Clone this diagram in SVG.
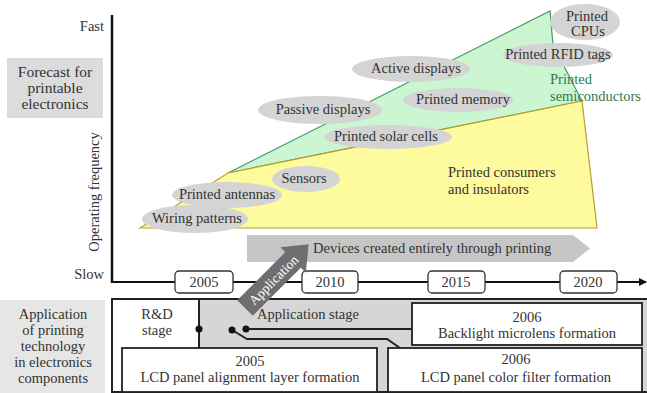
<svg xmlns="http://www.w3.org/2000/svg" width="647" height="393" viewBox="0 0 647 393" font-family="'Liberation Serif', 'DejaVu Serif', serif">
<style>
text{font-family:"Liberation Serif","DejaVu Serif","Noto Serif",serif;fill:#333;font-size:14.5px}
.c{text-anchor:middle}
.r{text-anchor:end}
.ell{fill:#d4d4d4}
.yr{fill:#fff;stroke:#333;stroke-width:1.3}
.box{fill:#fff;stroke:#222;stroke-width:1.8}
.ln{stroke:#222;stroke-width:2;fill:none}
.dot{fill:#111}
.g{fill:#2f7a4e}
.big{font-size:15.5px}
</style>
<defs>
<marker id="ah" markerWidth="8" markerHeight="8" refX="7" refY="4" orient="auto" markerUnits="userSpaceOnUse">
<path d="M0,0 L8,4 L0,8 z" fill="#111"/>
</marker>
</defs>

<g id="label-forecast">
<rect x="7" y="58" width="96" height="60" fill="#dcdcdc"/>
<text class="c big" x="55" y="77">Forecast for</text>
<text class="c big" x="55" y="93">printable</text>
<text class="c big" x="55" y="109">electronics</text>
</g>

<g id="label-application">
<rect x="0" y="300" width="105" height="93" fill="#e6e6e6"/>
<text class="c" x="53" y="319">Application</text>
<text class="c" x="53" y="335">of printing</text>
<text class="c" x="53" y="351">technology</text>
<text class="c" x="53" y="367">in electronics</text>
<text class="c" x="53" y="383">components</text>
</g>

<g id="forecast-areas">
<polygon points="228,173 550,11 553,45 582,101" fill="#ccf5d2" stroke="#3f9a66" stroke-width="1.2"/>
<polygon points="140,228 228,173 582,101 597,228" fill="#fdfb9d" stroke="#b8a030" stroke-width="1.2"/>
</g>

<g id="axes">
<text class="r" x="104" y="31">Fast</text>
<text class="r" x="104" y="279">Slow</text>
<text class="c" transform="translate(99,192) rotate(-90)">Operating frequency</text>
<line x1="112" y1="15" x2="112" y2="283" stroke="#111" stroke-width="2.5"/>
<line x1="111" y1="282" x2="646" y2="282" stroke="#111" stroke-width="2" marker-end="url(#ah)"/>
</g>

<g id="bubble-wiring"><ellipse class="ell" cx="195" cy="219" rx="53" ry="14"/><text class="c" x="197" y="223">Wiring patterns</text></g>
<g id="bubble-antennas"><ellipse class="ell" cx="227" cy="195" rx="55" ry="13"/><text class="c" x="227" y="199">Printed antennas</text></g>
<g id="bubble-sensors"><ellipse class="ell" cx="306" cy="179" rx="34" ry="13"/><text class="c" x="304" y="183">Sensors</text></g>
<g id="bubble-passive"><ellipse class="ell" cx="320" cy="110" rx="62" ry="14"/><text class="c" x="323" y="114">Passive displays</text></g>
<g id="bubble-solar"><ellipse class="ell" cx="388" cy="137" rx="64" ry="12"/><text class="c" x="386" y="141">Printed solar cells</text></g>
<g id="bubble-active"><ellipse class="ell" cx="411" cy="69" rx="59" ry="13"/><text class="c" x="416" y="73">Active displays</text></g>
<g id="bubble-memory"><ellipse class="ell" cx="458" cy="100" rx="55" ry="12"/><text class="c" x="463" y="104">Printed memory</text></g>
<g id="bubble-rfid"><ellipse class="ell" cx="558" cy="55" rx="55" ry="12"/><text class="c" x="558" y="59">Printed RFID tags</text></g>
<g id="bubble-cpus"><ellipse class="ell" cx="585" cy="22" rx="35" ry="18"/><text class="c" x="587" y="21">Printed</text><text class="c" x="588" y="36">CPUs</text></g>
<g id="text-semiconductors"><text class="g" x="550" y="84">Printed</text><text class="g" x="550" y="101">semiconductors</text></g>
<g id="text-consumers"><text x="448" y="177">Printed consumers</text><text x="448" y="194">and insulators</text></g>

<g id="arrow-devices">
<polygon points="247,235 573,235 590,248.5 573,262 247,262" fill="#c6c6c6"/>
<text x="313" y="253">Devices created entirely through printing</text>
</g>

<g id="years">
<rect class="yr" x="175" y="271" width="58" height="22" rx="4"/><text class="c" x="204" y="287">2005</text>
<rect class="yr" x="302" y="271" width="56" height="22" rx="4"/><text class="c" x="330" y="287">2010</text>
<rect class="yr" x="428" y="271" width="57" height="22" rx="4"/><text class="c" x="456" y="287">2015</text>
<rect class="yr" x="560" y="271" width="57" height="22" rx="4"/><text class="c" x="588" y="287">2020</text>
</g>

<g id="panel">
<rect x="112" y="299" width="540" height="93" fill="#fff" stroke="#222" stroke-width="2"/>
<rect x="199" y="300" width="450" height="91" fill="#d6d6d6"/>
<text class="c" x="157" y="319">R&amp;D</text>
<text class="c" x="157" y="335">stage</text>
<text x="257" y="319">Application stage</text>
</g>

<g id="connectors">
<line class="ln" x1="199" y1="299" x2="199" y2="348"/>
<circle class="dot" cx="199" cy="329" r="3.5"/>
<polyline class="ln" points="246,329 412,329"/>
<circle class="dot" cx="246" cy="329" r="3.5"/>
<polyline class="ln" points="232,330 247,339 387,339 400,348"/>
<circle class="dot" cx="232" cy="330" r="3.5"/>
</g>

<g id="box-backlight">
<rect class="box" x="412" y="303" width="230" height="42"/>
<text class="c" x="527" y="322">2006</text>
<text class="c" x="527" y="338">Backlight microlens formation</text>
</g>
<g id="box-alignment">
<rect class="box" x="122" y="348" width="255" height="44"/>
<text class="c" x="250" y="366">2005</text>
<text class="c" x="250" y="382">LCD panel alignment layer formation</text>
</g>
<g id="box-colorfilter">
<rect class="box" x="388" y="348" width="254" height="44"/>
<text class="c" x="516" y="364">2006</text>
<text class="c" x="516" y="382">LCD panel color filter formation</text>
</g>

<g id="arrow-application" transform="translate(245,308) rotate(-45)">
<polygon points="0,-11 68,-11 68,-18 90,0 68,18 68,11 0,11" fill="#6f6f6f"/>
<text class="c" x="40" y="5" style="fill:#fff;font-size:13.5px">Application</text>
</g>
</svg>
